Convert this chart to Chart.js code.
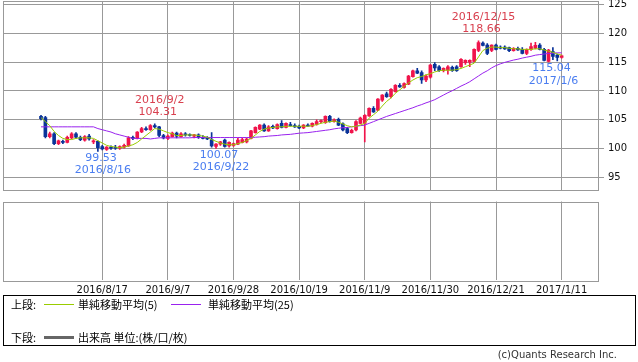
<!DOCTYPE html>
<html>
<head>
<meta charset="utf-8">
<script src="https://cdn.jsdelivr.net/npm/chart.js@4.4.0/dist/chart.umd.min.js"></script>
<style>
  html, body { margin: 0; padding: 0; background: #fff; }
  body { width: 638px; height: 362px; position: relative; overflow: hidden; }
  canvas { position: absolute; left: 0; }
  #priceChart { top: 0; }
  #volumeChart { top: 196px; }
  #legend { position: absolute; left: 3px; top: 295px; width: 631px; height: 49px; border: 1px solid #000;
            font-family: "Noto Sans CJK JP", sans-serif; font-size: 11px; color: #000; }
  #legend span { position: absolute; white-space: nowrap; }
  #legend .ln { height: 1px; width: 30px; }
  #copy { position: absolute; right: 21px; top: 349px; font-family: "DejaVu Sans", sans-serif; font-size: 10px; color: #333; }
</style>
</head>
<body>
<canvas id="priceChart" width="638" height="192"></canvas>
<canvas id="volumeChart" width="638" height="104"></canvas>
<div id="legend">
  <span style="left:7px; top:0px">上段:</span>
  <span class="ln" style="left:40px; top:8px; background:#99cc00"></span>
  <span style="left:74px; top:0px">単純移動平均(5)</span>
  <span class="ln" style="left:167px; top:8px; background:#9922ee"></span>
  <span style="left:204px; top:0px">単純移動平均(25)</span>
  <span style="left:7px; top:33px">下段:</span>
  <span style="left:40px; top:40px; width:30px; height:3px; background:#666"></span>
  <span style="left:74px; top:33px">出来高 単位:(株/口/枚)</span>
</div>
<div id="copy">(c)Quants Research Inc.</div>
<script>
// USD/JPY daily, 2016/7/28 .. 2017/1/11 (one entry per weekday)
const openP = [105.6,105.4,102.1,102.6,100.9,101.3,101.1,101.9,102.6,102.0,
  101.5,102.2,101.2,101.3,100.4,99.9,100.3,100.2,100.1,100.3,
  100.5,101.9,101.8,102.9,103.5,103.3,104.0,103.8,102.3,101.8,
  102.1,102.7,102.1,102.6,102.4,102.2,102.4,102.0,101.8,101.6,
  100.4,100.8,101.5,100.5,100.6,100.8,101.1,101.2,101.8,102.8,
  103.4,104.1,103.1,103.9,103.5,104.4,103.7,104.2,104.0,103.9,
  103.6,104.1,103.9,104.2,104.7,104.5,105.6,104.7,105.1,104.3,
  103.5,102.8,103.25,104.4,104.4,105.7,107.0,106.7,108.4,109.5,
  109.0,109.9,111.0,110.6,111.2,112.5,113.5,113.2,111.9,112.4,
  114.6,114.2,113.5,113.6,114.1,114.2,114.2,114.9,115.0,115.1,
  117.0,118.3,117.95,117.0,117.95,117.6,117.6,117.5,116.97,117.4,
  117.2,116.5,117.2,117.4,117.95,117.2,115.1,116.8,116.2,115.8];
const highP = [105.8,105.6,102.9,102.8,101.5,101.5,102.2,102.8,102.8,102.2,
  102.3,102.5,101.6,101.4,100.6,100.4,100.5,100.6,100.5,100.8,
  102.1,102.2,103.0,103.7,103.8,104.2,104.31,103.9,102.5,102.4,
  102.9,102.9,102.8,102.8,102.6,102.5,102.6,102.3,102.1,102.8,
  100.9,101.3,101.7,101.2,101.0,101.8,101.9,101.9,103.2,103.8,
  104.2,104.3,104.0,104.1,104.3,104.9,104.5,104.6,104.3,104.1,
  104.2,104.3,104.5,105.0,105.0,105.7,105.8,105.2,105.3,104.5,
  103.7,103.4,104.9,105.5,105.9,107.1,107.3,108.7,109.4,109.8,
  110.4,111.1,111.3,111.4,112.7,113.6,113.9,113.5,112.8,114.6,
  114.9,114.4,114.0,114.4,114.3,114.4,115.6,115.4,115.4,117.3,
  118.66,118.5,118.2,118.0,118.1,117.8,117.8,117.6,117.5,117.6,
  117.5,117.3,118.3,118.4,118.2,117.4,117.2,117.5,116.4,116.2];
const lowP = [105.0,101.9,101.9,100.7,100.7,100.9,101.0,101.7,101.8,101.4,
  101.3,101.5,100.9,99.53,99.8,99.7,99.9,99.9,99.9,100.1,
  100.4,101.6,101.7,102.8,103.2,103.2,103.6,102.1,101.7,101.6,
  102.0,101.9,102.0,102.2,102.2,101.9,101.8,101.7,101.6,100.3,
  100.07,100.6,100.3,100.3,100.4,100.7,101.0,101.0,101.7,102.7,
  103.3,103.0,103.0,103.5,103.4,103.6,103.6,103.9,103.7,103.5,
  103.5,103.9,103.8,104.1,104.5,104.4,104.6,104.6,104.0,103.1,
  102.6,102.7,103.1,104.3,101.2,105.6,106.3,106.6,108.2,108.9,
  108.8,109.8,110.6,110.5,111.1,112.4,113.0,111.3,111.6,112.2,
  113.5,113.4,113.3,112.9,113.4,113.4,114.1,114.6,114.2,115.0,
  116.8,117.8,116.3,116.8,117.1,117.3,117.2,116.8,116.9,117.0,
  116.4,116.3,117.0,117.3,117.1,115.2,115.04,115.4,115.2,115.7];
const closeP = [105.2,102.1,102.6,100.9,101.4,101.1,102.0,102.6,102.0,101.6,
  102.1,101.7,101.4,100.2,100.0,100.3,100.1,100.1,100.4,100.6,
  101.9,101.8,102.9,103.5,103.3,104.0,103.8,102.3,101.9,102.2,
  102.7,102.2,102.6,102.4,102.3,102.4,102.0,101.8,101.7,100.5,
  100.8,101.2,100.4,101.1,100.9,101.5,101.6,101.7,103.1,103.7,
  104.1,103.1,103.8,103.6,104.2,103.7,104.4,104.0,103.8,103.6,
  104.1,103.9,104.4,104.7,104.9,105.6,104.7,105.0,104.1,103.25,
  102.8,103.2,104.7,105.3,105.8,107.0,106.4,108.6,109.3,109.0,
  110.3,111.0,110.7,111.3,112.6,113.5,113.1,111.9,112.6,114.5,
  114.0,113.5,113.9,114.2,113.5,113.5,115.5,115.3,115.3,117.2,
  118.36,117.9,116.5,117.95,117.2,117.4,117.3,116.97,117.4,117.1,
  116.5,117.2,117.7,117.9,117.2,115.3,117.1,116.0,115.8,116.1];
// moving averages as drawn on the original (they include days before the window)
const ma5 = [105.4,104.7,104.0,103.0,102.3,101.8,101.6,101.6,101.8,101.9,
  101.9,101.9,101.8,101.4,101.0,100.6,100.4,100.3,100.2,100.3,
  100.5,100.7,101.1,101.7,102.3,102.9,103.5,103.4,103.1,102.8,
  102.6,102.3,102.3,102.4,102.4,102.4,102.3,102.2,102.0,101.6,
  101.3,101.0,100.8,100.7,100.7,100.9,101.1,101.4,101.8,102.4,
  103.0,103.4,103.6,103.7,103.8,103.8,103.9,103.9,103.9,103.9,
  103.9,103.9,104.0,104.2,104.4,104.6,104.7,104.8,104.6,104.3,
  104.0,103.8,103.9,104.1,104.4,105.3,105.9,106.5,107.4,108.2,
  108.8,109.6,110.2,110.8,111.4,111.9,112.3,112.5,112.8,113.0,
  113.3,113.5,113.6,113.6,113.6,113.7,113.9,114.2,114.5,114.8,
  115.9,117.0,117.4,117.6,117.6,117.5,117.5,117.4,117.3,117.3,
  117.2,117.2,117.2,117.3,117.3,117.1,116.9,116.7,116.4,116.2];
const ma25 = [103.8,103.8,103.8,103.8,103.8,103.8,103.8,103.8,103.8,103.8,
  103.8,103.8,103.8,103.5,103.3,103.1,102.9,102.6,102.4,102.2,
  102.0,101.8,101.8,101.8,101.8,101.7,101.8,101.9,101.9,101.9,
  101.9,101.9,101.9,101.9,101.9,101.95,101.95,101.95,101.95,101.95,
  101.95,101.95,101.95,101.95,101.95,101.95,101.95,101.95,101.95,102.0,
  102.05,102.1,102.2,102.25,102.3,102.4,102.45,102.5,102.6,102.7,
  102.75,102.8,102.9,103.0,103.1,103.2,103.3,103.45,103.55,103.65,
  103.7,103.8,103.9,104.0,104.1,104.4,104.7,105.0,105.3,105.6,
  105.85,106.1,106.35,106.6,106.85,107.1,107.4,107.65,107.95,108.2,
  108.5,108.9,109.3,109.7,110.05,110.45,110.85,111.2,111.6,112.1,
  112.6,113.1,113.5,114.0,114.4,114.7,114.95,115.15,115.35,115.5,
  115.7,115.85,116.0,116.2,116.3,116.4,116.5,116.55,116.6,116.6];
const volume = [];

const tickIndex = [14, 29, 44, 59, 74, 89, 104, 119];
const tickLabels = ['2016/8/17','2016/9/7','2016/9/28','2016/10/19','2016/11/9','2016/11/30','2016/12/21','2017/1/11'];
const yTicks = [95, 100, 105, 110, 115, 120, 125];

const markIndex = [26, 13, 40, 100, 116];
const markValue = [104.31, 99.53, 100.07, 118.66, 115.04];
const markDate = ['2016/9/2', '2016/8/16', '2016/9/22', '2016/12/15', '2017/1/6'];
const markHigh = [true, false, false, true, false];

const UP = '#f0144b', DOWN = '#0a3399', GRID = '#999999';
const X_MIN = -8.686, X_MAX = 127.31;

const candleColor = openP.map((o, i) => closeP[i] >= o ? UP : DOWN);

const frame = {
  id: 'frame',
  afterDraw(chart) {
    const a = chart.chartArea, ctx = chart.ctx;
    ctx.save();
    ctx.strokeStyle = GRID;
    ctx.lineWidth = 1;
    ctx.strokeRect(Math.round(a.left) + 0.5, Math.round(a.top) + 0.5,
      Math.round(a.right - a.left), Math.round(a.bottom - a.top));
    ctx.restore();
  }
};

const marks = {
  id: 'marks',
  afterDatasetsDraw(chart) {
    const ctx = chart.ctx, xs = chart.scales.x, ys = chart.scales.y;
    ctx.save();
    ctx.font = '11px "DejaVu Sans"';
    ctx.textAlign = 'center';
    ctx.textBaseline = 'middle';
    markIndex.forEach((idx, k) => {
      const x = xs.getPixelForValue(idx) + 3;
      const y = ys.getPixelForValue(markValue[k]);
      const txt = markValue[k].toFixed(2);
      if (markHigh[k]) {
        ctx.fillStyle = '#d9404f';
        ctx.fillText(markDate[k], x + 2, y - 24);
        ctx.fillText(txt, x, y - 12);
      } else {
        ctx.fillStyle = '#4a7df0';
        ctx.fillText(txt, x, y + 6.5);
        ctx.fillText(markDate[k], x + 2, y + 19);
      }
    });
    ctx.restore();
  }
};

new Chart(document.getElementById('priceChart'), {
  type: 'bar',
  data: {
    datasets: [
      { type: 'line', label: '単純移動平均(5)', data: ma5.map((v, i) => ({ x: i, y: v })),
        borderColor: '#99cc00', borderWidth: 1, pointRadius: 0, tension: 0, order: 0 },
      { type: 'line', label: '単純移動平均(25)', data: ma25.map((v, i) => ({ x: i, y: v })),
        borderColor: '#9922ee', borderWidth: 1, pointRadius: 0, tension: 0, order: 0 },
      { label: 'wick', data: lowP.map((l, i) => ({ x: i, y: [l, highP[i]] })),
        backgroundColor: candleColor, barThickness: 1, grouped: false, order: 2 },
      { label: 'body', data: openP.map((o, i) => ({ x: i, y: [o, closeP[i]] })),
        backgroundColor: candleColor, barThickness: 3, minBarLength: 1, grouped: false, order: 1 }
    ]
  },
  options: {
    responsive: false,
    animation: false,
    devicePixelRatio: 1,
    layout: { padding: { left: 3, top: 1, right: 0, bottom: 1.7 } },
    plugins: { legend: { display: false }, tooltip: { enabled: false } },
    scales: {
      x: {
        type: 'linear', min: X_MIN, max: X_MAX, offset: false,
        grid: { color: GRID, drawTicks: false, offset: false },
        border: { display: false },
        ticks: { display: false },
        afterBuildTicks: s => { s.ticks = tickIndex.map(v => ({ value: v })); },
        afterFit: s => { s.height = 0; s.paddingLeft = 0; s.paddingRight = 0; }
      },
      y: {
        position: 'right', min: 92.82, max: 125.57,
        grid: { color: GRID, drawTicks: true, tickLength: 6 },
        border: { display: false },
        ticks: { color: '#111', font: { family: 'DejaVu Sans', size: 10 }, padding: 4 },
        afterBuildTicks: s => { s.ticks = yTicks.map(v => ({ value: v })); },
        afterFit: s => { s.width = 40; s.paddingTop = 0; s.paddingBottom = 0; }
      }
    }
  },
  plugins: [frame, marks]
});

new Chart(document.getElementById('volumeChart'), {
  type: 'bar',
  data: { datasets: [{ label: '出来高', data: volume, backgroundColor: '#666' }] },
  options: {
    responsive: false,
    animation: false,
    devicePixelRatio: 1,
    layout: { padding: { left: 3, top: 5.5, right: 0, bottom: 0 } },
    plugins: { legend: { display: false }, tooltip: { enabled: false } },
    scales: {
      x: {
        type: 'linear', min: X_MIN, max: X_MAX, offset: false,
        grid: { color: GRID, drawTicks: false, offset: false },
        border: { display: false },
        ticks: { color: '#111', font: { family: 'DejaVu Sans', size: 10 }, padding: 4,
                 autoSkip: false, maxRotation: 0, callback: (v, i) => tickLabels[i] },
        afterBuildTicks: s => { s.ticks = tickIndex.map(v => ({ value: v })); },
        afterFit: s => { s.height = 20; s.paddingLeft = 0; s.paddingRight = 0; }
      },
      y: {
        position: 'right', min: 0, max: 1,
        grid: { display: false },
        border: { display: false },
        ticks: { display: false },
        afterFit: s => { s.width = 40; s.paddingTop = 0; s.paddingBottom = 0; }
      }
    }
  },
  plugins: [frame]
});
</script>
</body>
</html>
